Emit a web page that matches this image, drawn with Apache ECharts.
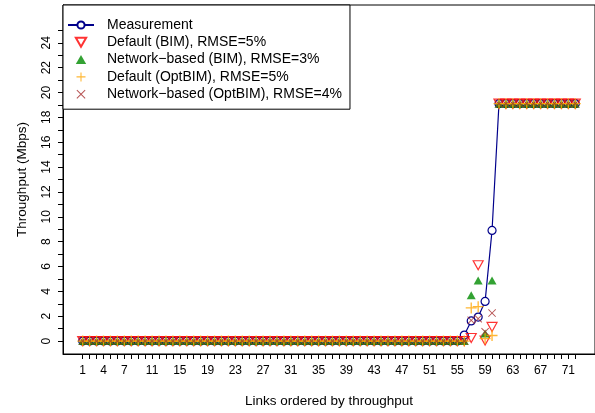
<!DOCTYPE html>
<html>
<head>
<meta charset="utf-8">
<script src="https://cdn.jsdelivr.net/npm/echarts@6/dist/echarts.min.js"></script>
<style>
  html, body { margin: 0; padding: 0; background: #fff; }
  #chart { width: 595px; height: 413px; }
</style>
</head>
<body>
<div id="chart"></div>
<script>
// links 1..72, ordered by throughput
const links = [
  1, 2, 3, 4, 5, 6, 7, 8, 9, 10, 11, 12, 13, 14, 15, 16, 17, 18, 19, 20,
  21, 22, 23, 24, 25, 26, 27, 28, 29, 30, 31, 32, 33, 34, 35, 36, 37, 38, 39, 40,
  41, 42, 43, 44, 45, 46, 47, 48, 49, 50, 51, 52, 53, 54, 55, 56, 57, 58, 59, 60,
  61, 62, 63, 64, 65, 66, 67, 68, 69, 70, 71, 72
]
const xLabels = [1, 4, 7, 11, 15, 19, 23, 27, 31, 35, 39, 43, 47, 51, 55, 59, 63, 67, 71]
const yTicks = [0, 1, 2, 3, 4, 5, 6, 7, 8, 9, 10, 11, 12, 13, 14, 15, 16, 17, 18, 19, 20, 21, 22, 23, 24, 25]
const yLabels = [0, 2, 4, 6, 8, 10, 12, 14, 16, 18, 20, 22, 24]

const measurement = [
  0, 0, 0, 0, 0, 0, 0, 0, 0, 0, 0, 0, 0, 0, 0, 0, 0, 0, 0, 0,
  0, 0, 0, 0, 0, 0, 0, 0, 0, 0, 0, 0, 0, 0, 0, 0, 0, 0, 0, 0,
  0, 0, 0, 0, 0, 0, 0, 0, 0, 0, 0, 0, 0, 0, 0, 0.48, 1.62, 1.93, 3.19, 8.9,
  19.1, 19.1, 19.1, 19.1, 19.1, 19.1, 19.1, 19.1, 19.1, 19.1, 19.1, 19.1
]
const defaultBIM = [
  0, 0, 0, 0, 0, 0, 0, 0, 0, 0, 0, 0, 0, 0, 0, 0, 0, 0, 0, 0,
  0, 0, 0, 0, 0, 0, 0, 0, 0, 0, 0, 0, 0, 0, 0, 0, 0, 0, 0, 0,
  0, 0, 0, 0, 0, 0, 0, 0, 0, 0, 0, 0, 0, 0, 0, 0, 0.25, 6.1, 0.05, 1.14,
  19.1, 19.1, 19.1, 19.1, 19.1, 19.1, 19.1, 19.1, 19.1, 19.1, 19.1, 19.1
]
const networkBIM = [
  0, 0, 0, 0, 0, 0, 0, 0, 0, 0, 0, 0, 0, 0, 0, 0, 0, 0, 0, 0,
  0, 0, 0, 0, 0, 0, 0, 0, 0, 0, 0, 0, 0, 0, 0, 0, 0, 0, 0, 0,
  0, 0, 0, 0, 0, 0, 0, 0, 0, 0, 0, 0, 0, 0, 0, 0, 3.69, 4.87, 0.6, 4.87,
  19.1, 19.1, 19.1, 19.1, 19.1, 19.1, 19.1, 19.1, 19.1, 19.1, 19.1, 19.1
]
const defaultOptBIM = [
  0, 0, 0, 0, 0, 0, 0, 0, 0, 0, 0, 0, 0, 0, 0, 0, 0, 0, 0, 0,
  0, 0, 0, 0, 0, 0, 0, 0, 0, 0, 0, 0, 0, 0, 0, 0, 0, 0, 0, 0,
  0, 0, 0, 0, 0, 0, 0, 0, 0, 0, 0, 0, 0, 0, 0, 0, 2.67, 2.77, 0.2, 0.45,
  19.1, 19.1, 19.1, 19.1, 19.1, 19.1, 19.1, 19.1, 19.1, 19.1, 19.1, 19.1
]
const networkOptBIM = [
  0, 0, 0, 0, 0, 0, 0, 0, 0, 0, 0, 0, 0, 0, 0, 0, 0, 0, 0, 0,
  0, 0, 0, 0, 0, 0, 0, 0, 0, 0, 0, 0, 0, 0, 0, 0, 0, 0, 0, 0,
  0, 0, 0, 0, 0, 0, 0, 0, 0, 0, 0, 0, 0, 0, 0, 0, 1.67, 1.8, 0.75, 2.25,
  19.1, 19.1, 19.1, 19.1, 19.1, 19.1, 19.1, 19.1, 19.1, 19.1, 19.1, 19.1
]

const FONT = "'Liberation Sans', Arial, Helvetica, sans-serif"
// R-like point shapes as paths (keep their aspect in the legend)
const PLUS = 'path://M44,0h12v44h44v12h-44v44h-12v-44h-44v-12h44z'
const CROSS = 'path://M0,8L8,0L50,42L92,0L100,8L58,50L100,92L92,100L50,58L8,100L0,92L42,50z'
const TRI_DOWN = 'path://M0,0L100,0L50,87z'
const TRI_UP = 'path://M50,0L100,87L0,87z'

function pairs(values) {
  return links.map((x, i) => [x, values[i]])
}

const chart = echarts.init(document.getElementById('chart'), null, { renderer: 'canvas' })

chart.setOption({
  animation: false,
  backgroundColor: '#fff',
  textStyle: { fontFamily: FONT, color: '#000' },
  grid: {
    left: 63, top: 5, width: 534, height: 356,
    show: true, borderColor: '#000', borderWidth: 1, backgroundColor: 'transparent'
  },
  legend: {
    orient: 'vertical',
    left: 63, top: 5,
    padding: [13, 8, 8, 4],
    itemWidth: 26,
    itemHeight: 9,
    itemGap: 3.3,
    symbolKeepAspect: true,
    backgroundColor: '#fff',
    borderColor: '#000',
    borderWidth: 1,
    borderRadius: 0,
    textStyle: { fontFamily: FONT, fontSize: 14, lineHeight: 14, color: '#000', padding: [0, 0, 0, 8] },
    data: [
      'Measurement',
      'Default (BIM), RMSE=5%',
      'Network\u2212based (BIM), RMSE=3%',
      'Default (OptBIM), RMSE=5%',
      'Network\u2212based (OptBIM), RMSE=4%'
    ]
  },
  xAxis: {
    type: 'value',
    min: -1.84, max: 74.84,
    name: 'Links ordered by throughput',
    nameLocation: 'middle',
    nameGap: 40,
    nameTextStyle: { fontFamily: FONT, fontSize: 13.5, color: '#000' },
    axisLine: { show: true, onZero: false, lineStyle: { color: '#000', width: 1 } },
    axisTick: { show: true, length: 5, lineStyle: { color: '#000' }, customValues: links },
    axisLabel: { fontFamily: FONT, fontSize: 12, color: '#000', margin: 11, customValues: xLabels },
    splitLine: { show: false }
  },
  yAxis: {
    type: 'value',
    min: -1.04, max: 27.04,
    name: 'Throughput (Mbps)',
    nameLocation: 'middle',
    nameRotate: 90,
    nameGap: 34,
    nameTextStyle: { fontFamily: FONT, fontSize: 13.5, color: '#000' },
    axisLine: { show: true, onZero: false, lineStyle: { color: '#000', width: 1 } },
    axisTick: { show: true, length: 5, lineStyle: { color: '#000' }, customValues: yTicks },
    axisLabel: { fontFamily: FONT, fontSize: 12, color: '#000', margin: 10, rotate: 90, customValues: yLabels },
    splitLine: { show: false }
  },
  series: [
    {
      name: 'Measurement',
      type: 'line',
      z: 1,
      data: pairs(measurement),
      symbol: 'circle',
      symbolSize: 8,
      showAllSymbol: true,
      lineStyle: { color: '#00008B', width: 1.2 },
      itemStyle: { color: '#fff', borderColor: '#00008B', borderWidth: 1.2 }
    },
    {
      name: 'Default (BIM), RMSE=5%',
      type: 'scatter',
      z: 2,
      data: pairs(defaultBIM),
      symbol: TRI_DOWN,
      symbolSize: [10, 9],
      itemStyle: { color: 'rgba(0,0,0,0)', borderColor: '#FF0000', borderWidth: 1.2 }
    },
    {
      name: 'Network\u2212based (BIM), RMSE=3%',
      type: 'scatter',
      z: 3,
      data: pairs(networkBIM),
      symbol: TRI_UP,
      symbolSize: [9, 8],
      itemStyle: { color: '#008B00' }
    },
    {
      name: 'Default (OptBIM), RMSE=5%',
      type: 'scatter',
      z: 4,
      data: pairs(defaultOptBIM),
      symbol: PLUS,
      symbolSize: 11,
      itemStyle: { color: '#FFA500' }
    },
    {
      name: 'Network\u2212based (OptBIM), RMSE=4%',
      type: 'scatter',
      z: 5,
      data: pairs(networkOptBIM),
      symbol: CROSS,
      symbolSize: 8,
      itemStyle: { color: '#A52A2A' }
    }
  ]
})
</script>
</body>
</html>
